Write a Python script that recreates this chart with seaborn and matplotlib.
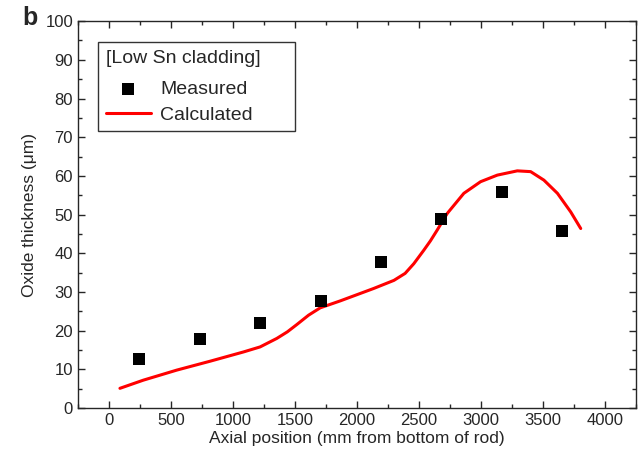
import matplotlib
matplotlib.use("Agg")
import matplotlib.pyplot as plt
from matplotlib.ticker import MultipleLocator
import numpy as np
import pandas as pd
import seaborn as sns

# measured oxide thickness (um) vs axial position (mm)
meas_x = [242, 733, 1218, 1708, 2196, 2681, 3169, 3659]
meas_y = [12.8, 17.8, 21.9, 27.7, 37.8, 48.8, 55.9, 45.8]

# calculated curve
calc_x = [89, 277, 547, 816, 1086, 1220, 1355, 1440, 1517, 1611, 1705, 1867,
          2136, 2300, 2390, 2460, 2541, 2594, 2649, 2730, 2864, 2999, 3134, 3295,
          3403, 3510, 3619, 3726, 3807]
calc_y = [5.1, 7.2, 9.8, 12.1, 14.5, 15.8, 18.0, 19.7, 21.6, 24.0, 25.9, 27.7,
          30.9, 33.0, 34.8, 37.3, 40.8, 43.2, 46.0, 50.3, 55.5, 58.5, 60.2, 61.3,
          61.1, 58.9, 55.5, 50.7, 46.4]

sns.set_style("ticks")
plt.rcParams["font.family"] = ["Liberation Sans", "DejaVu Sans"]
plt.rcParams["xtick.direction"] = "in"
plt.rcParams["ytick.direction"] = "in"

meas = pd.DataFrame({"x": meas_x, "y": meas_y})
calc = pd.DataFrame({"x": calc_x, "y": calc_y})

fig = plt.figure(figsize=(6.44, 4.59), dpi=100)
ax = fig.add_axes([0.121, 0.111, 0.866, 0.843])

sns.lineplot(data=calc, x="x", y="y", ax=ax, color="#ff0000", lw=2.2,
             label="Calculated", sort=False, zorder=2)
sns.scatterplot(data=meas, x="x", y="y", ax=ax, marker="s", s=75,
                color="black", edgecolor="none", label="Measured", zorder=3)

ax.set_xlim(-250, 4250)
ax.set_ylim(0, 100)
ax.xaxis.set_major_locator(MultipleLocator(500))
ax.xaxis.set_minor_locator(MultipleLocator(250))
ax.yaxis.set_major_locator(MultipleLocator(10))
ax.yaxis.set_minor_locator(MultipleLocator(5))
ax.tick_params(which="both", top=True, right=True, labelsize=12, width=1)
ax.tick_params(which="major", length=5)
ax.tick_params(which="minor", length=3)
for s in ax.spines.values():
    s.set_linewidth(1)
    s.set_visible(True)

ax.set_xlabel("Axial position (mm from bottom of rod)", fontsize=12.5, labelpad=2)
ax.set_ylabel("Oxide thickness (\u03bcm)", fontsize=12.5, labelpad=6)

h, l = ax.get_legend_handles_labels()
order = [l.index("Measured"), l.index("Calculated")]
leg = ax.legend([h[i] for i in order], [l[i] for i in order],
                title="[Low Sn cladding]     ", loc="upper left",
                bbox_to_anchor=(0.036, 0.946), borderaxespad=0,
                fontsize=14, title_fontsize=14,
                frameon=True, fancybox=False, edgecolor="black",
                handlelength=2.3, handletextpad=0.5, borderpad=0.4,
                labelspacing=0.4)
leg.get_frame().set_linewidth(1)
leg._legend_box.align = "left"
leg._legend_box.sep = 10

fig.text(0.035, 0.945, "b", fontsize=18, fontweight="bold")

fig.savefig("out.png", dpi=100)
